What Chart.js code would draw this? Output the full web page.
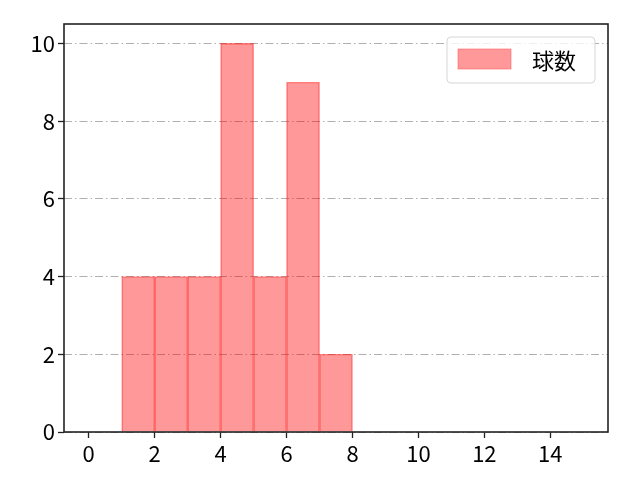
<!DOCTYPE html>
<html>
<head>
<meta charset="utf-8">
<script src="https://cdn.jsdelivr.net/npm/chart.js@4"></script>
<style>
  html, body { margin: 0; padding: 0; background: #fff; }
  #wrap { width: 640px; height: 480px; }
</style>
</head>
<body>
<div id="wrap"><canvas id="chart" width="640" height="480"></canvas></div>
<script>
// ─── DADOS ────────────────────────────────────────────────────────────────
const binStarts = [1, 2, 3, 4, 5, 6, 7];
const counts    = [4, 4, 4, 10, 4, 9, 2];
const seriesLabel = '球数';
const xTicks = [0, 2, 4, 6, 8, 10, 12, 14];
const yTicks = [0, 2, 4, 6, 8, 10];

const FONT = '"Noto Sans CJK JP", "Noto Sans", sans-serif';

// moldura do gráfico
const framePlugin = {
  id: 'frame',
  afterDraw(chart) {
    const { ctx, chartArea: a } = chart;
    ctx.save();
    ctx.strokeStyle = '#222';
    ctx.lineWidth = 1.6;
    ctx.strokeRect(a.left, a.top, a.right - a.left, a.bottom - a.top);
    ctx.restore();
  },
};

// legenda dentro da área (canto superior direito)
const legendPlugin = {
  id: 'innerLegend',
  afterDraw(chart) {
    const { ctx, chartArea: a } = chart;
    const ds = chart.data.datasets[0];
    const w = 148, h = 46;
    const x = a.right - 13 - w, y = a.top + 13;
    ctx.save();
    ctx.beginPath();
    ctx.roundRect(x, y, w, h, 4);
    ctx.fillStyle = 'rgba(255,255,255,0.8)';
    ctx.fill();
    ctx.strokeStyle = '#d6d6d6';
    ctx.lineWidth = 1;
    ctx.stroke();
    ctx.fillStyle = ds.backgroundColor;
    ctx.fillRect(x + 11, y + 12, 53, 20);
    ctx.strokeStyle = 'rgba(255,80,80,0.5)';
    ctx.strokeRect(x + 11, y + 12, 53, 20);
    ctx.fillStyle = '#000';
    ctx.font = `22px ${FONT}`;
    ctx.textBaseline = 'middle';
    ctx.fillText(ds.label, x + 85, y + h / 2 + 1);
    ctx.restore();
  },
};

new Chart(document.getElementById('chart'), {
  type: 'bar',
  data: {
    datasets: [{
      label: seriesLabel,
      data: binStarts.map((b, i) => ({ x: b + 0.5, y: counts[i] })),
      backgroundColor: 'rgba(255,0,0,0.4)',
      borderColor: 'rgba(255,0,0,0.45)',
      borderWidth: 0.7,
      barPercentage: 1,
      categoryPercentage: 1,
    }],
  },
  options: {
    responsive: false,
    animation: false,
    layout: { padding: { left: 0, right: 32, top: 24, bottom: 0 } },
    plugins: {
      legend: { display: false },
      tooltip: { enabled: false },
    },
    scales: {
      x: {
        type: 'linear',
        offset: false,
        min: -0.75,
        max: 15.75,
        afterBuildTicks: s => { s.ticks = xTicks.map(v => ({ value: v })); },
        afterFit: s => { s.height = 48; },
        ticks: {
          color: '#000',
          font: { family: FONT, size: 22 },
          padding: 2,
          maxRotation: 0,
          autoSkip: false,
        },
        grid: {
          offset: false,
          drawOnChartArea: false,
          drawTicks: true,
          tickLength: 6,
          tickColor: '#222',
          tickWidth: 1.3,
        },
        border: { display: false },
      },
      y: {
        min: 0,
        max: 10.5,
        afterBuildTicks: s => { s.ticks = yTicks.map(v => ({ value: v })); },
        afterFit: s => { s.width = 64; },
        ticks: {
          color: '#000',
          font: { family: FONT, size: 22 },
          padding: 3,
        },
        grid: {
          color: '#b0b0b0',
          lineWidth: 1,
          drawTicks: true,
          tickLength: 6,
          tickColor: '#222',
          tickWidth: 1.3,
        },
        border: { display: false, dash: [8, 3, 1.5, 3] },
      },
    },
  },
  plugins: [framePlugin, legendPlugin],
});
</script>
</body>
</html>
